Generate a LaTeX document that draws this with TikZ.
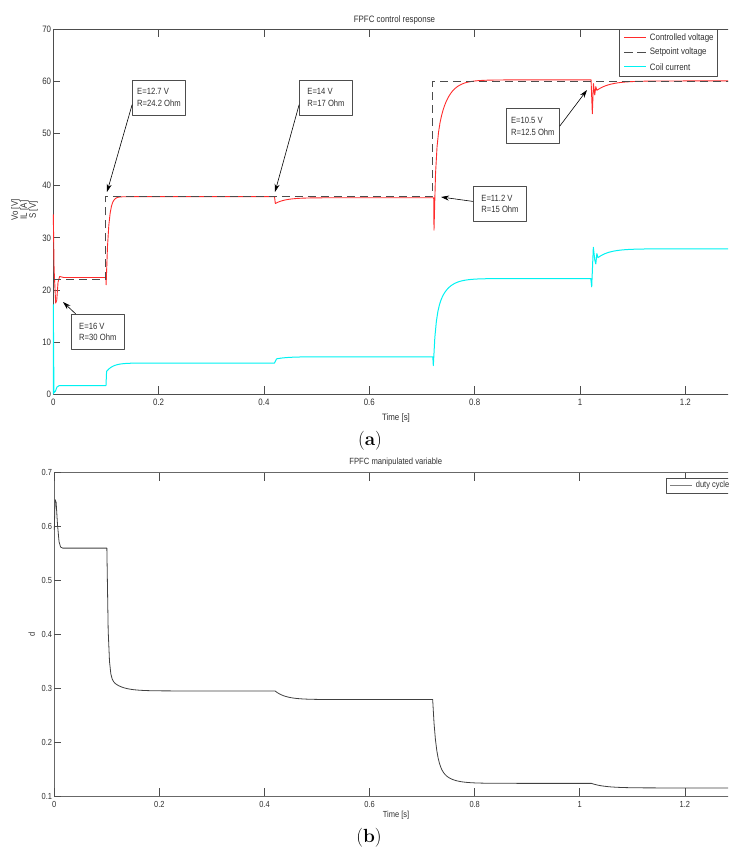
\documentclass[tikz,border=0pt]{standalone}
\usepackage{fontspec}
\newfontfamily\plotfont[FakeStretch=0.85]{Liberation Sans}
\usetikzlibrary{arrows.meta}
\definecolor{axisgray}{HTML}{4D4D4D}
\definecolor{txtgray}{HTML}{303030}
\definecolor{ctrlred}{HTML}{FF2B2B}
\definecolor{coilcyan}{HTML}{00F2F2}
\definecolor{dutygray}{HTML}{404040}

\begin{document}
\begin{tikzpicture}[x=1pt, y=-1pt, line join=round,
    axis line/.style={draw=axisgray, line width=0.9pt},
    axis tick/.style={draw=axisgray, line width=0.8pt},
    tick label/.style={font=\plotfont\fontsize{9.3}{10}\selectfont, text=txtgray, inner sep=1pt},
    small label/.style={font=\plotfont\fontsize{8.8}{9.5}\selectfont, text=txtgray, inner sep=1pt},
    panel title/.style={font=\plotfont\fontsize{9.3}{10}\selectfont, text=txtgray},
    legend box/.style={draw=axisgray, line width=0.7pt, fill=white, anchor=north west, inner sep=0pt},
    annot box/.style={draw=axisgray, line width=0.8pt, fill=white, align=left,
                      font=\plotfont\fontsize{9}{11.5}\selectfont, text=txtgray,
                      minimum width=53pt, minimum height=35pt, inner sep=0pt},
    pointer/.style={-{Stealth[length=8pt, width=5pt]}, line width=0.6pt, black},
    ctrl/.style={draw=ctrlred, line width=0.9pt},
    setpoint/.style={draw=black!70, line width=1pt, dash pattern=on 8pt off 5pt},
    coil/.style={draw=coilcyan, line width=1pt},
    duty/.style={draw=dutygray, line width=0.8pt},
    caption/.style={font=\fontsize{19}{21}\selectfont}]

  \path[use as bounding box] (0,0) rectangle (728,853);
  \clip (0,0) rectangle (728,853);

  % ---------- panel (a) ----------
  \node[panel title] (title a) at (394.5,20) {FPFC control response};
  \draw[axis line] (760,29.3) -- (53.3,29.3) -- (53.3,394.3) -- (760,394.3);

  \begin{scope}[shift={(53.3,394.3)}, x=526.7pt, y=5.214pt]
    \foreach \t/\lab [count=\i] in {0/0,0.2/0.2,0.4/0.4,0.6/0.6,0.8/0.8,1/1,1.2/1.2} {
      \draw[axis tick] (\t,0) -- ++(0pt,8pt);
      \draw[axis tick] (\t,70) -- ++(0pt,-8pt);
      \node[tick label, anchor=north] (xa\i) at ([yshift=-4pt]\t,0) {\lab};
    }
    \foreach \v [count=\i] in {0,10,...,70} {
      \draw[axis tick] (0,\v) -- ++(6.7pt,0pt);
      \node[tick label, anchor=east] (ya\i) at ([xshift=-1pt]0,\v) {\v};
    }

    % controlled voltage
    \draw[ctrl] (0,34.5) -- (0.0015,24) -- (0.0045,17.5) -- (0.0065,18) -- (0.009,21.5)
      -- (0.012,22.6) -- (0.02,22.4) -- (0.0998,22.4) -- (0.1003,21)
      -- plot[domain=0.1003:0.2, samples=40] (\x,{37.9-16.9*exp(-(\x-0.1003)*220)})
      -- (0.42,37.9) -- (0.4215,36.6)
      -- plot[domain=0.4215:0.55, samples=30] (\x,{37.7-1.1*exp(-(\x-0.4215)*50)})
      -- (0.7222,37.7) -- (0.7228,31.5)
      -- plot[domain=0.7228:0.95, samples=80] (\x,{60.3-14*exp(-(\x-0.7228)*330)-14.8*exp(-(\x-0.7228)*55)})
      -- (1.021,60.3) -- (1.0234,53.8) -- (1.0255,59.6) -- (1.028,57.4) -- (1.030,59) -- (1.032,58.3)
      -- plot[domain=1.032:1.2, samples=40] (\x,{60.1-1.8*exp(-(\x-1.032)*40)})
      -- (1.35,60.1);

    % setpoint voltage
    \draw[setpoint] (0,22) -- (0.1,22) -- (0.1,38) -- (0.72,38) -- (0.72,60) -- (1.35,60);

    % coil current
    \draw[coil] (0,0) -- (0,17.2) -- (0.0012,0.3) -- (0.004,0.6) -- (0.007,1.4) -- (0.011,1.65)
      -- (0.1,1.65) -- (0.1012,4.4)
      -- plot[domain=0.1012:0.25, samples=40] (\x,{6.0-1.6*exp(-(\x-0.1012)*80)})
      -- (0.42,6.0) -- (0.424,6.8)
      -- plot[domain=0.424:0.55, samples=25] (\x,{7.2-0.4*exp(-(\x-0.424)*50)})
      -- (0.7205,7.2) -- (0.7215,5.5)
      -- plot[domain=0.7215:0.95, samples=80] (\x,{22.2-8*exp(-(\x-0.7215)*250)-8.7*exp(-(\x-0.7215)*55)})
      -- (1.0205,22.2) -- (1.0222,20.6) -- (1.0253,28.2) -- (1.028,25.8) -- (1.030,25)
      -- (1.032,27) -- (1.034,26.2)
      -- plot[domain=1.034:1.2, samples=40] (\x,{27.9-1.7*exp(-(\x-1.034)*45)})
      -- (1.35,27.9);
  \end{scope}

  \node[tick label, rotate=90, align=center, font=\plotfont\fontsize{9.3}{9}\selectfont]
    (ylab a) at (24.5,210) {Vo [V]\\IL [A]\\S [V]};
  \node[tick label] (xlab a) at (396,417.7) {Time [s]};

  % legend (a)
  \node[legend box, minimum width=97.7pt, minimum height=46.7pt] (legend a) at (619,29.3) {};
  \draw[ctrl] (624,37.7) -- (645.7,37.7);
  \draw[setpoint, dash pattern=on 9pt off 4pt] (624,52.3) -- (648,52.3);
  \draw[coil] (624,67) -- (645.7,67);
  \node[tick label, anchor=west] (leg ctrl) at (648.7,37.7) {Controlled voltage};
  \node[tick label, anchor=west] (leg set) at (648.7,52.3) {Setpoint voltage};
  \node[tick label, anchor=west] (leg coil) at (648.7,67) {Coil current};

  % operating point notes
  \node[annot box] (op b) at (159,97.5) {E=12.7 V\\R=24.2 Ohm};
  \node[annot box] (op c) at (326,97.5) {E=14 V\\R=17 Ohm};
  \node[annot box] (op e) at (532.8,126.2) {E=10.5 V\\R=12.5 Ohm};
  \node[annot box] (op d) at (500,203.8) {E=11.2 V\\R=15 Ohm};
  \node[annot box] (op a) at (97.8,331.8) {E=16 V\\R=30 Ohm};

  \coordinate (tip b) at (107,192);
  \coordinate (tip c) at (275,192);
  \coordinate (tip e) at (587,90);
  \coordinate (tip d) at (441,197);
  \coordinate (tip a) at (63,302);

  \draw[pointer] (op b.195) -- (tip b);
  \draw[pointer] (op c.195) -- (tip c);
  \draw[pointer] (op e.east) -- (tip e);
  \draw[pointer] (op d.175) -- (tip d);
  \draw[pointer] (op a.141) -- (tip a);

  \node[caption] (cap a) at (370,441) {(\textbf{a})};

  % ---------- panel (b) ----------
  \node[panel title, font=\plotfont\fontsize{9}{10}\selectfont] (title b) at (395.8,462.3) {FPFC manipulated variable};
  \draw[axis line, draw=axisgray!85] (760,472.7) -- (54.3,472.7) -- (54.3,796) -- (760,796);

  \begin{scope}[shift={(54.3,849.9)}, x=525.5pt, y=538.9pt]
    \foreach \t/\lab [count=\i] in {0/0,0.2/0.2,0.4/0.4,0.6/0.6,0.8/0.8,1/1,1.2/1.2} {
      \draw[axis tick] (\t,0.1) -- ++(0pt,8pt);
      \draw[axis tick] (\t,0.7) -- ++(0pt,-8pt);
      \node[small label, anchor=north] (xb\i) at ([yshift=-4pt]\t,0.1) {\lab};
    }
    \foreach \v [count=\i] in {0.1,0.2,0.3,0.4,0.5,0.6,0.7} {
      \draw[axis tick] (0,\v) -- ++(6.7pt,0pt);
      \node[small label, anchor=east] (yb\i) at ([xshift=-1pt]0,\v) {\v};
    }

    % duty cycle
    \draw[duty] (0,0.594) -- (0.0015,0.65) -- (0.0035,0.645) -- (0.006,0.605) -- (0.009,0.572)
      -- (0.012,0.562) -- (0.016,0.56) -- (0.1,0.56)
      -- plot[domain=0.1:0.25, samples=60] (\x,{0.295+0.235*exp(-(\x-0.1)*400)+0.03*exp(-(\x-0.1)*50)})
      -- (0.42,0.295)
      -- plot[domain=0.42:0.55, samples=30] (\x,{0.279+0.016*exp(-(\x-0.42)*50)})
      -- (0.72,0.279)
      -- plot[domain=0.72:0.9, samples=70] (\x,{0.1235+0.109*exp(-(\x-0.72)*167)+0.0467*exp(-(\x-0.72)*50)})
      -- (1.022,0.1235)
      -- plot[domain=1.022:1.2, samples=30] (\x,{0.115+0.0085*exp(-(\x-1.022)*40)})
      -- (1.35,0.115);
  \end{scope}

  \node[small label, rotate=90] (ylab b) at (31.7,634.3) {d};
  \node[small label] (xlab b) at (396,815.7) {Time [s]};

  % legend (b)
  \node[legend box, minimum width=90pt, minimum height=15pt] (legend b) at (665.7,477.7) {};
  \draw[duty, draw=gray] (670,485.2) -- (692.3,485.2);
  \node[small label, anchor=west] (leg duty) at (694.7,485.2) {duty cycle};

  \node[caption] (cap b) at (369,838) {(\textbf{b})};
\end{tikzpicture}
\end{document}
